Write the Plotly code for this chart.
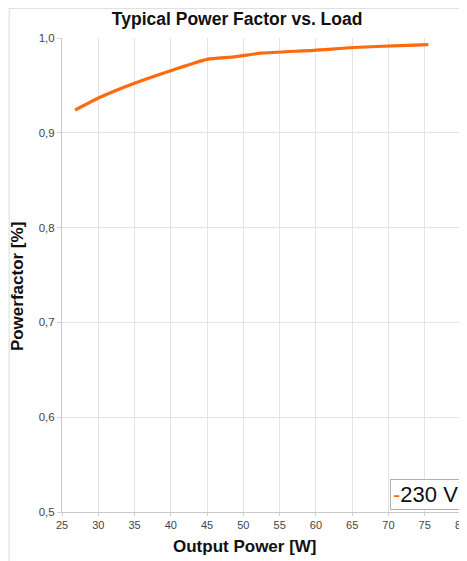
import plotly.graph_objects as go

# Output power [W] vs. power factor at 230 V
power_w = [26.8, 30.4, 34.9, 40.2, 45.0, 48.7, 52.4, 59.7, 65.2, 71.6, 75.5]
power_factor = [0.924, 0.938, 0.952, 0.966, 0.9775, 0.980, 0.984, 0.987, 0.990, 0.992, 0.993]
series_name = "230 V"

x_ticks = [25, 30, 35, 40, 45, 50, 55, 60, 65, 70, 75, 80]
y_ticks = [0.5, 0.6, 0.7, 0.8, 0.9, 1.0]

orange = "#FF6A0D"
font_family = "Liberation Sans, Arial, sans-serif"

fig = go.Figure()
fig.add_trace(go.Scatter(x=power_w, y=power_factor,
                         mode='lines',
                         name=series_name,
                         line={"color": orange, "width": 3.2, "shape": "spline", "smoothing": 0.6},
                         hoverinfo='none',
                         showlegend=False))

# outer frame of the chart (page body adds ~8px offset)
fig.add_shape(type="rect", xref="paper", yref="paper",
              x0=-0.1325, x1=1.01, y0=-0.12, y1=1.0625,
              line={"color": "#dcdcdc", "width": 1}, layer="below")

# small legend box inside the plot, bottom right
fig.add_annotation(xref="paper", yref="paper", x=1, y=0.005,
                   xanchor="right", yanchor="bottom", showarrow=False,
                   text=f"<span style='color:{orange}'>-</span>{series_name}",
                   font={"size": 22, "color": "#111111", "family": font_family},
                   bgcolor="white", bordercolor="#b0b0b0", borderwidth=1, borderpad=2)

# axis titles (placed like the original, slightly off-centre)
fig.add_annotation(xref="paper", yref="paper", x=0.4575, y=-0.0738,
                   xanchor="center", yanchor="middle", showarrow=False,
                   text="<b>Output Power [W]</b>",
                   font={"size": 17, "color": "#111111"})
fig.add_annotation(xref="paper", yref="paper", x=-0.11, y=0.4747,
                   xanchor="center", yanchor="middle", showarrow=False,
                   textangle=-90, text="<b>Powerfactor [%]</b>",
                   font={"size": 17, "color": "#111111"})

fig.update_layout(
    width=462, height=553,
    margin={"l": 54, "r": 9, "t": 30, "b": 49},
    paper_bgcolor="white", plot_bgcolor="white",
    separators=",.",
    font={"family": font_family, "color": "#333333", "size": 12},
    title={"text": "<b>Typical Power Factor vs. Load</b>",
           "font": {"size": 17.5, "color": "#111111"},
           "x": 0.496, "xref": "container", "xanchor": "center",
           "y": 0.98, "yref": "container", "yanchor": "middle"},
    xaxis={"range": [25, 80], "tickvals": x_ticks, "automargin": False,
           "showgrid": True, "gridcolor": "#e4e4e4", "gridwidth": 1,
           "showline": True, "linecolor": "#c8c8c8", "mirror": False,
           "ticks": "outside", "ticklen": 3, "tickcolor": "#d0d0d0",
           "ticklabeloverflow": "allow",
           "zeroline": False, "tickfont": {"size": 11, "color": "#444444"}},
    yaxis={"range": [0.5, 1.0], "tickvals": y_ticks, "tickformat": ".1f", "automargin": False,
           "showgrid": True, "gridcolor": "#e4e4e4", "gridwidth": 1,
           "showline": True, "linecolor": "#c8c8c8",
           "ticks": "outside", "ticklen": 4, "tickcolor": "#d0d0d0",
           "zeroline": False, "tickfont": {"size": 11.5, "color": "#444444"}},
)

fig.write_html("out.html")
